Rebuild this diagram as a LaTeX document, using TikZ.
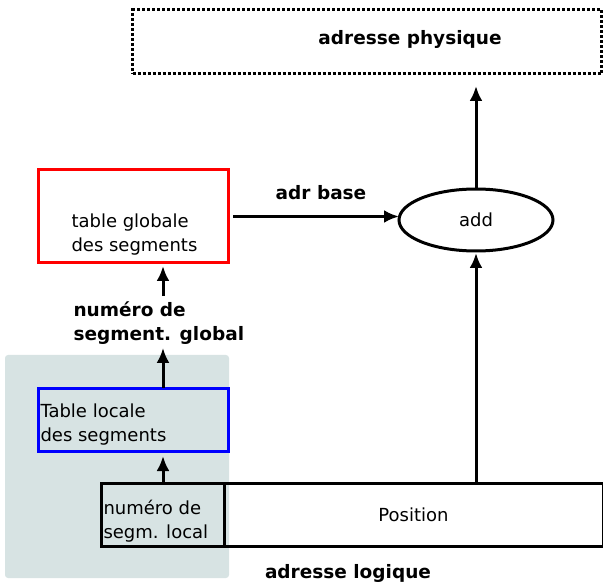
\documentclass[tikz,border=0pt]{standalone}
\usepackage{fontspec}
\setmainfont{DejaVu Sans}
\usepackage{xcolor}
\definecolor{colorBack}{RGB}{215,227,227}
\colorlet{colorGlobal}{red}
\colorlet{colorLocal}{blue}
\usetikzlibrary{arrows.meta, positioning, shapes.geometric}
\tikzset{box/.style={draw, line width=3pt, outer sep=0pt, minimum height=63pt}}
\tikzset{txt/.style={inner sep=0pt, align=left, font=\fontsize{18}{24}\selectfont}}
\tikzset{lbl/.style={txt, font=\fontsize{18.5}{24}\selectfont\bfseries}}

\begin{document}
\begin{tikzpicture}[x=1pt, y=-1pt, >={Latex[length=15pt,width=13pt]}, line width=3pt]
\useasboundingbox (0,0) rectangle (603,588);
\fill[colorBack, rounded corners=3pt] (5,355) rectangle (229,578);
\node[box, dash pattern=on 3pt off 2pt, minimum width=469pt, minimum height=64pt] (phys) at (367,42) {};
\node[lbl] (physTxt) at (410,39) {adresse physique};
\node[box, draw=colorGlobal, minimum width=190pt, minimum height=93pt] (glob) at (133,216.5) {};
\node[txt, anchor=west] (globTxt) at (70,235) {table globale\\des segments};
\node[box, ellipse, minimum width=154pt, minimum height=62pt, font=\fontsize{18}{24}\selectfont] (add) at (476,220) {add};
\node[lbl] (base) at (321,193) {adr base};
\node[lbl, anchor=west] (gnum) at (72,323) {numéro de\\segment. global};
\node[box, draw=colorLocal, minimum width=190pt] (loc) at (133,419.5) {};
\node[txt, anchor=west] (locTxt) at (39,425) {Table locale\\des segments};
\node[box, minimum width=123pt] (seg) at (162.5,514.5) {};
\node[txt, anchor=west] (segTxt) at (102,521) {numéro de\\segm. local};
\node[box, minimum width=379pt, right=0pt of seg, font=\fontsize{18}{24}\selectfont] (pos) {Position};
\node[lbl] (logi) at (348,573) {adresse logique};
\draw[->, shorten <=5pt] (glob.east) -- (glob.east -| add.west);
\draw[->, shorten >=12pt] (add.north) -- (add.north |- phys.south);
\draw[->, shorten >=2pt] (pos.north -| add.south) -- (add.south);
\draw[->, shorten >=5pt] (seg.north -| 163,0) -- (loc.south -| 163,0);
\draw[->, shorten >=2pt] (loc.north -| 163,0) -- (gnum.south -| 163,0);
\draw[->, shorten <=4pt, shorten >=3pt] (gnum.north -| 163,0) -- (glob.south -| 163,0);
\end{tikzpicture}
\end{document}
